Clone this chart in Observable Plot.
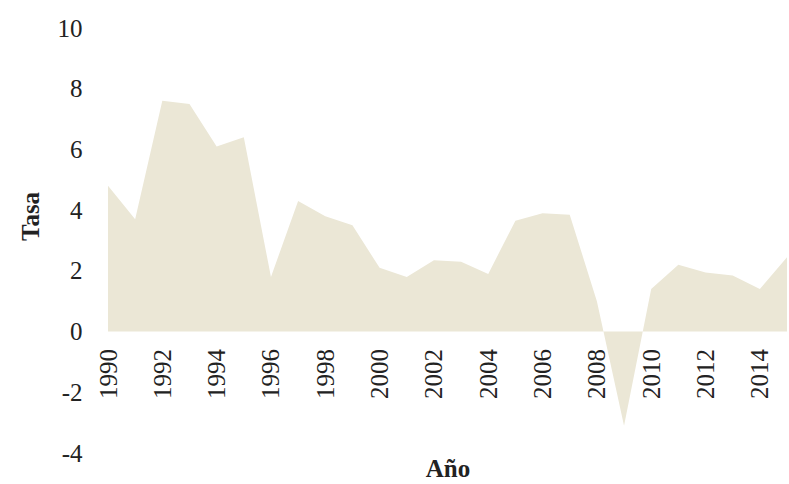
<!DOCTYPE html>
<html><head><meta charset="utf-8">
<script src="https://cdn.jsdelivr.net/npm/d3@7"></script>
<script src="https://cdn.jsdelivr.net/npm/@observablehq/plot@0.6"></script>
<style>body{margin:0;background:#fff}</style>
</head><body><div id="chart"></div>
<script>
const years = [1990, 1991, 1992, 1993, 1994, 1995, 1996, 1997, 1998, 1999, 2000, 2001, 2002, 2003, 2004, 2005, 2006, 2007, 2008, 2009, 2010, 2011, 2012, 2013, 2014, 2015];
const rates = [4.8, 3.7, 7.6, 7.5, 6.1, 6.4, 1.8, 4.3, 3.8, 3.5, 2.1, 1.8, 2.35, 2.3, 1.9, 3.65, 3.9, 3.85, 1.0, -3.1, 1.4, 2.2, 1.95, 1.85, 1.4, 2.45];
const xTicks = [1990, 1992, 1994, 1996, 1998, 2000, 2002, 2004, 2006, 2008, 2010, 2012, 2014];
const yTicks = [-4, -2, 0, 2, 4, 6, 8, 10];
const xTitle = "Año";
const yTitle = "Tasa";

const data = years.map((year, i) => ({year, rate: rates[i]}));
const font = "'Liberation Serif', 'DejaVu Serif', serif";

const chart = Plot.plot({
  width: 789, height: 484,
  marginLeft: 108, marginRight: 2, marginTop: 28, marginBottom: 31,
  style: {fontFamily: font, fontSize: "25px", color: "#222", background: "#fff"},
  x: {domain: [1990, 2015], axis: null},
  y: {domain: [-4, 10], ticks: yTicks, tickSize: 0, tickPadding: 26, tickFormat: d => String(d), label: null},
  marks: [
    Plot.areaY(data, {x: "year", y: "rate", fill: "#ebe7d6", curve: "linear"}),
    Plot.text(xTicks, {x: d => d, y: d => 0, text: d => String(d), rotate: -90, textAnchor: "end", lineAnchor: "middle", dy: 17, fill: "#222"}),
    Plot.text([yTitle], {frameAnchor: "left", dx: -78, rotate: -90, text: d => d, fontWeight: "bold", fill: "#222"}),
    Plot.text([xTitle], {frameAnchor: "bottom", dy: 6, lineAnchor: "top", text: d => d, fontWeight: "bold", fill: "#222"})
  ]
});
document.getElementById("chart").appendChild(chart);
</script>
</body></html>
